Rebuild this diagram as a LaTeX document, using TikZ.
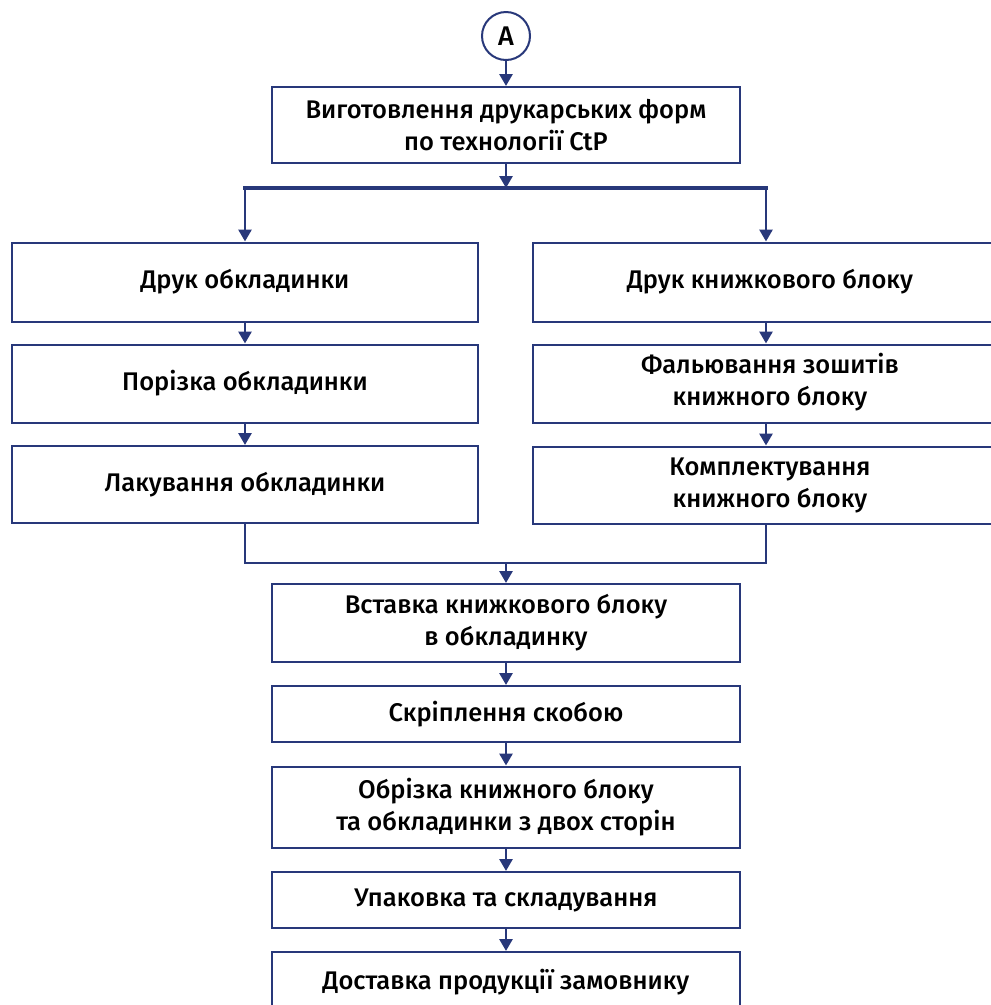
\documentclass[tikz,border=0pt]{standalone}
\usepackage{fontspec}
\setmainfont{Fira Sans}[UprightFont={* Medium}]
\usetikzlibrary{arrows.meta}
\definecolor{navy}{HTML}{28387A}
\tikzset{
  box/.style={draw=navy, line width=2pt, fill=white, align=center, inner sep=0pt,
              font=\fontsize{25.5}{32}\selectfont, text=black},
  conn/.style={draw=navy, line width=2.8pt, -{Triangle[length=12pt,width=13pt]}},
  branch/.style={draw=navy, line width=3.4pt},
  merge/.style={draw=navy, line width=2.2pt},
}
\begin{document}
\begin{tikzpicture}[x=1pt,y=-1pt]
\fill[white] (0,0) rectangle (991,1005);
\useasboundingbox (0,0) rectangle (991,1005);
\clip (0,0) rectangle (991,1005);
% helper x positions
\coordinate (lx) at (245,0);
\coordinate (rx) at (766,0);
\coordinate (mx) at (506,0);
% nodes
\node[circle, draw=navy, line width=2pt, minimum size=48pt, inner sep=0pt,
      font=\fontsize{27}{30}\selectfont] (A) at (506,36) {A};
\node[box, minimum width=468pt, minimum height=76pt] (b1) at (506,125)
  {Виготовлення друкарських форм\\по технології CtP};
\node[box, minimum width=466pt, minimum height=79pt] (L1) at (245,282) {Друк обкладинки};
\node[box, minimum width=466pt, minimum height=78pt] (L2) at (245,383.5) {Порізка обкладинки};
\node[box, minimum width=466pt, minimum height=77pt] (L3) at (245,484.5) {Лакування обкладинки};
\node[box, minimum width=474pt, minimum height=79pt] (R1) at (770,282)
  {\makebox[466pt]{Друк книжкового блоку}};
\node[box, minimum width=474pt, minimum height=78pt] (R2) at (770,383.5)
  {\makebox[466pt]{\begin{tabular}{@{}c@{}}Фальювання зошитів\\книжного блоку\end{tabular}}};
\node[box, minimum width=474pt, minimum height=77pt] (R3) at (770,485)
  {\makebox[466pt]{\begin{tabular}{@{}c@{}}Комплектування\\книжного блоку\end{tabular}}};
\node[box, minimum width=468pt, minimum height=78pt] (b2) at (506,623)
  {Вставка книжкового блоку\\в обкладинку};
\node[box, minimum width=468pt, minimum height=56pt] (b3) at (506,714) {Скріплення скобою};
\node[box, minimum width=468pt, minimum height=81pt] (b4) at (506,807)
  {Обрізка книжного блоку\\та обкладинки з двох сторін};
\node[box, minimum width=468pt, minimum height=56pt] (b5) at (506,900) {Упаковка та складування};
\node[box, minimum width=468pt, minimum height=60pt] (b6) at (506,982) {Доставка продукції замовнику};
% split / merge points
\coordinate (sy) at (0,188);
\coordinate (my) at (0,563);
% connectors
\draw[conn] (A) -- (b1);
\draw[conn] (b1.south) -- (sy -| b1.south);
\draw[branch, line cap=rect] (sy -| lx) -- (sy -| rx);
\draw[conn] (sy -| lx) -- (L1.north -| lx);
\draw[conn] (sy -| rx) -- (R1.north -| rx);
\draw[conn] (L1.south -| lx) -- (L2.north -| lx);
\draw[conn] (L2.south -| lx) -- (L3.north -| lx);
\draw[conn] (R1.south -| rx) -- (R2.north -| rx);
\draw[conn] (R2.south -| rx) -- (R3.north -| rx);
\draw[merge] (L3.south -| lx) -- (my -| lx) -- (my -| rx) -- (R3.south -| rx);
\draw[conn] (my -| mx) -- (b2.north);
\draw[conn] (b2) -- (b3);
\draw[conn] (b3) -- (b4);
\draw[conn] (b4) -- (b5);
\draw[conn] (b5) -- (b6);
\end{tikzpicture}
\end{document}
